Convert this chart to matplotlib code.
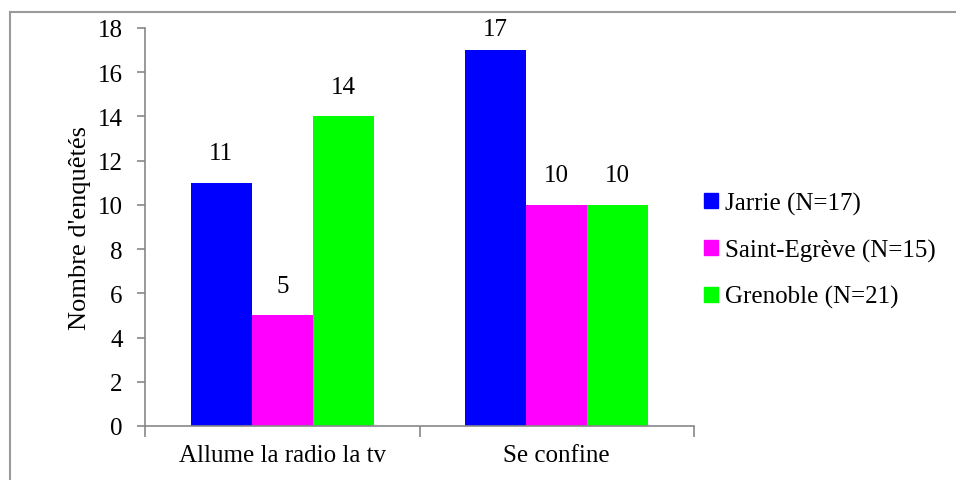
import numpy as np
import matplotlib
matplotlib.use("Agg")
import matplotlib.pyplot as plt
from matplotlib.lines import Line2D
from matplotlib.patches import Patch

categories = ["Allume la radio la tv", "Se confine"]
series_names = ["Jarrie (N=17)", "Saint-Egrève (N=15)", "Grenoble (N=21)"]
jarrie = [11, 17]
saint_egreve = [5, 10]
grenoble = [14, 10]
colors = ["#0000FF", "#FF00FF", "#00FF00"]
ylabel = "Nombre d'enquêtés"

plt.rcParams["font.family"] = ["Liberation Serif", "DejaVu Serif"]
FS = 18
GRAY = "#878787"

fig = plt.figure(figsize=(9.56, 4.81), dpi=100)
ax = fig.add_axes([145 / 956, 1 - 427 / 481, 549 / 956, 398 / 481])

x = np.arange(len(categories))
w = 0.222
for i, (vals, c) in enumerate(zip([jarrie, saint_egreve, grenoble], colors)):
    bars = ax.bar(x + (i - 1) * w, vals, w, color=c, label=series_names[i])
    for b, v in zip(bars, vals):
        # labels sit ~0.85 unit above the bar, squeezed under the top of the plot
        ax.text(b.get_x() + b.get_width() / 2, min(v + 0.85, 17.45), str(v),
                ha="center", va="bottom", fontsize=FS)

ax.set_xlim(-0.5, len(categories) - 0.5)
ax.set_ylim(0, 18)
ax.set_yticks(range(0, 19, 2))
ax.set_xticks(x)
ax.set_xticklabels(categories, fontsize=FS)
ax.tick_params(axis="x", length=0, pad=13)
ax.set_xticks(np.arange(-0.5, len(categories)), minor=True)
ax.tick_params(axis="x", which="minor", length=8, width=1.2, color=GRAY, direction="out")
ax.tick_params(axis="y", length=6, width=1.2, color=GRAY, labelsize=FS, pad=10)
ax.set_ylabel(ylabel, fontsize=19, va="center")
ax.yaxis.set_label_coords(-0.118, 0.5)
for s in ["top", "right"]:
    ax.spines[s].set_visible(False)
for s in ["left", "bottom"]:
    ax.spines[s].set_color(GRAY)
    ax.spines[s].set_linewidth(1.2)

handles = [Patch(color=c, label=n) for c, n in zip(colors, series_names)]
fig.legend(handles=handles, loc="center left", bbox_to_anchor=(704 / 956, 1 - 251 / 481),
           frameon=False, fontsize=FS, handlelength=0.55, handleheight=0.55,
           handletextpad=0.3, labelspacing=0.95, borderaxespad=0, borderpad=0)

# outer frame (left and top edges visible)
fig.add_artist(Line2D([10 / 956, 10 / 956], [0, 1 - 13 / 481], color="#9a9a9a", lw=1.5))
fig.add_artist(Line2D([10 / 956, 1], [1 - 13 / 481, 1 - 13 / 481], color="#9a9a9a", lw=1.5))

fig.savefig("out.png", dpi=100)
